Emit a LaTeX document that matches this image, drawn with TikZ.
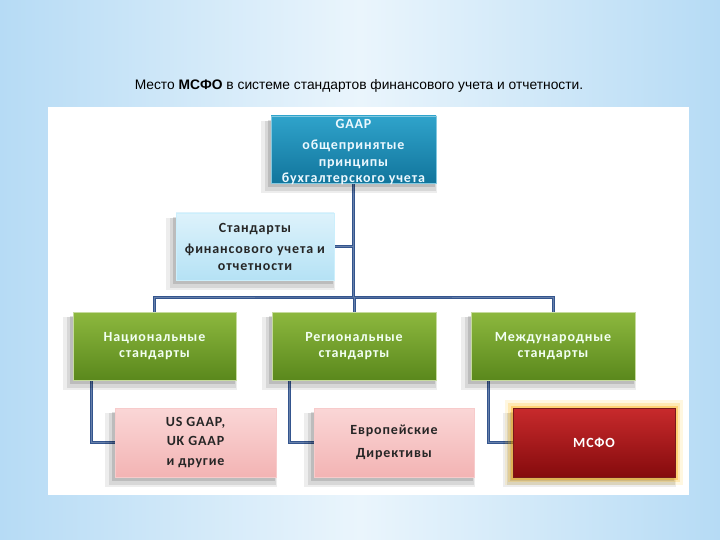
\documentclass[tikz,border=0pt]{standalone}
\usepackage{fontspec}
\setmainfont{Carlito}
\newfontfamily\titlefont{Liberation Sans}
\usetikzlibrary{shadows,calc}
\definecolor{bgedge}{HTML}{B6DBF5}
\definecolor{bgmid}{HTML}{EAF5FC}
\definecolor{linec}{HTML}{34558E}
\definecolor{tealtop}{HTML}{2FA3CB}
\definecolor{tealbot}{HTML}{12759C}
\definecolor{lbtop}{HTML}{DDF2FB}
\definecolor{lbbot}{HTML}{B5E2F5}
\definecolor{grtop}{HTML}{8DB83E}
\definecolor{grbot}{HTML}{5A881C}
\definecolor{pktop}{HTML}{FAD6D6}
\definecolor{pkbot}{HTML}{F3B4B4}
\definecolor{rdtop}{HTML}{C82A2C}
\definecolor{rdbot}{HTML}{850B0D}
\tikzset{
  softshadow/.style={
    drop shadow={shadow xshift=-4pt, shadow yshift=-7pt, opacity=0.07, fill=black, shadow scale=1.07},
    drop shadow={shadow xshift=-3pt, shadow yshift=-6pt, opacity=0.09, fill=black, shadow scale=1.04},
    drop shadow={shadow xshift=-2pt, shadow yshift=-4pt, opacity=0.12, fill=black, shadow scale=1.01}},
  box/.style={rectangle, align=center, inner sep=2pt,
    font=\fontsize{14}{16.5}\selectfont\bfseries\addfontfeatures{LetterSpace=6}, softshadow},
  tealbox/.style={box, top color=tealtop, bottom color=tealbot, draw=tealtop!60!white, line width=0.8pt, text=white!92!cyan},
  lbbox/.style={box, top color=lbtop, bottom color=lbbot, draw=white!80!cyan, line width=0.8pt, text=black!85},
  grbox/.style={box, top color=grtop, bottom color=grbot, draw=grtop!50!white, line width=0.8pt, text=white!95!green},
  pkbox/.style={box, top color=pktop, bottom color=pkbot, draw=pkbot!70!white, line width=0.8pt, text=black!85},
  rdbox/.style={box, top color=rdtop, bottom color=rdbot, draw=rdtop!60!black, line width=0.8pt, text=white,
    preaction={draw=orange!50!yellow, line width=16pt, opacity=0.12},
    preaction={draw=orange!60!yellow, line width=10pt, opacity=0.2},
    preaction={draw=orange!70!yellow, line width=5pt, opacity=0.35}},
  conn/.style={draw=linec, line width=3pt},
  connin/.style={draw=linec!75!white, line width=0.8pt}
}
\begin{document}
\begin{tikzpicture}[x=1pt, y=-1pt]
\useasboundingbox (0,0) rectangle (720,540);
\shade[left color=bgedge, right color=bgedge, middle color=bgmid] (0,0) rectangle (720,540);
\fill[white] (48,107) rectangle (689,495);
\node[font=\titlefont\fontsize{13.8}{15}\selectfont] (title) at (359,86)
  {Место \textbf{МСФО} в системе стандартов финансового учета и отчетности.};

\coordinate (bus) at (353,297);
\coordinate (gaapb) at (353.5,183);
\coordinate (natd) at (91,380);
\coordinate (regd) at (289,380);
\coordinate (intd) at (488,380);
\coordinate (stde) at (334,246.5);

\foreach \s in {conn, connin} {
  \draw[\s] (gaapb) -- (gaapb |- bus);
  \draw[\s] (stde) -- (stde -| gaapb);
  \draw[\s] (154.5,312) |- (bus) -| (553,312);
  \draw[\s] (354,312) -- (354,297);
  \draw[\s] (natd) |- (115,442.5);
  \draw[\s] (regd) |- (314,442.5);
  \draw[\s] (intd) |- (513,442.5);
}

\node[tealbox, minimum width=165pt, minimum height=67pt] (gaap) at (353.5,149.5) {};
\node[font=\fontsize{14}{16.5}\selectfont\bfseries\addfontfeatures{LetterSpace=6}, text=white!92!cyan, align=center, anchor=center] (gaaptext) at (353.5,152)
  {GAAP\\[5pt] общепринятые\\ принципы\\ бухгалтерского учета};
\node[lbbox, minimum width=158pt, minimum height=67pt] (std) at (255,246.5)
  {Стандарты\\[5pt] финансового учета и\\ отчетности};
\node[grbox, minimum width=163pt, minimum height=68pt] (nat) at (154.5,346)
  {Национальные\\ стандарты};
\node[grbox, minimum width=164pt, minimum height=68pt] (reg) at (354,346)
  {Региональные\\ стандарты};
\node[grbox, minimum width=164pt, minimum height=68pt] (int) at (553,346)
  {Международные\\ стандарты};
\node[pkbox, minimum width=161pt, minimum height=69pt] (us) at (195.5,442.5)
  {US GAAP,\\[3pt] UK GAAP\\[3pt] и другие};
\node[pkbox, minimum width=160pt, minimum height=69pt] (eu) at (394,442.5)
  {Европейские\\[6pt] Директивы};
\node[rdbox, minimum width=162pt, minimum height=69pt] (ifrs) at (594,442.5)
  {МСФО};
\end{tikzpicture}
\end{document}
